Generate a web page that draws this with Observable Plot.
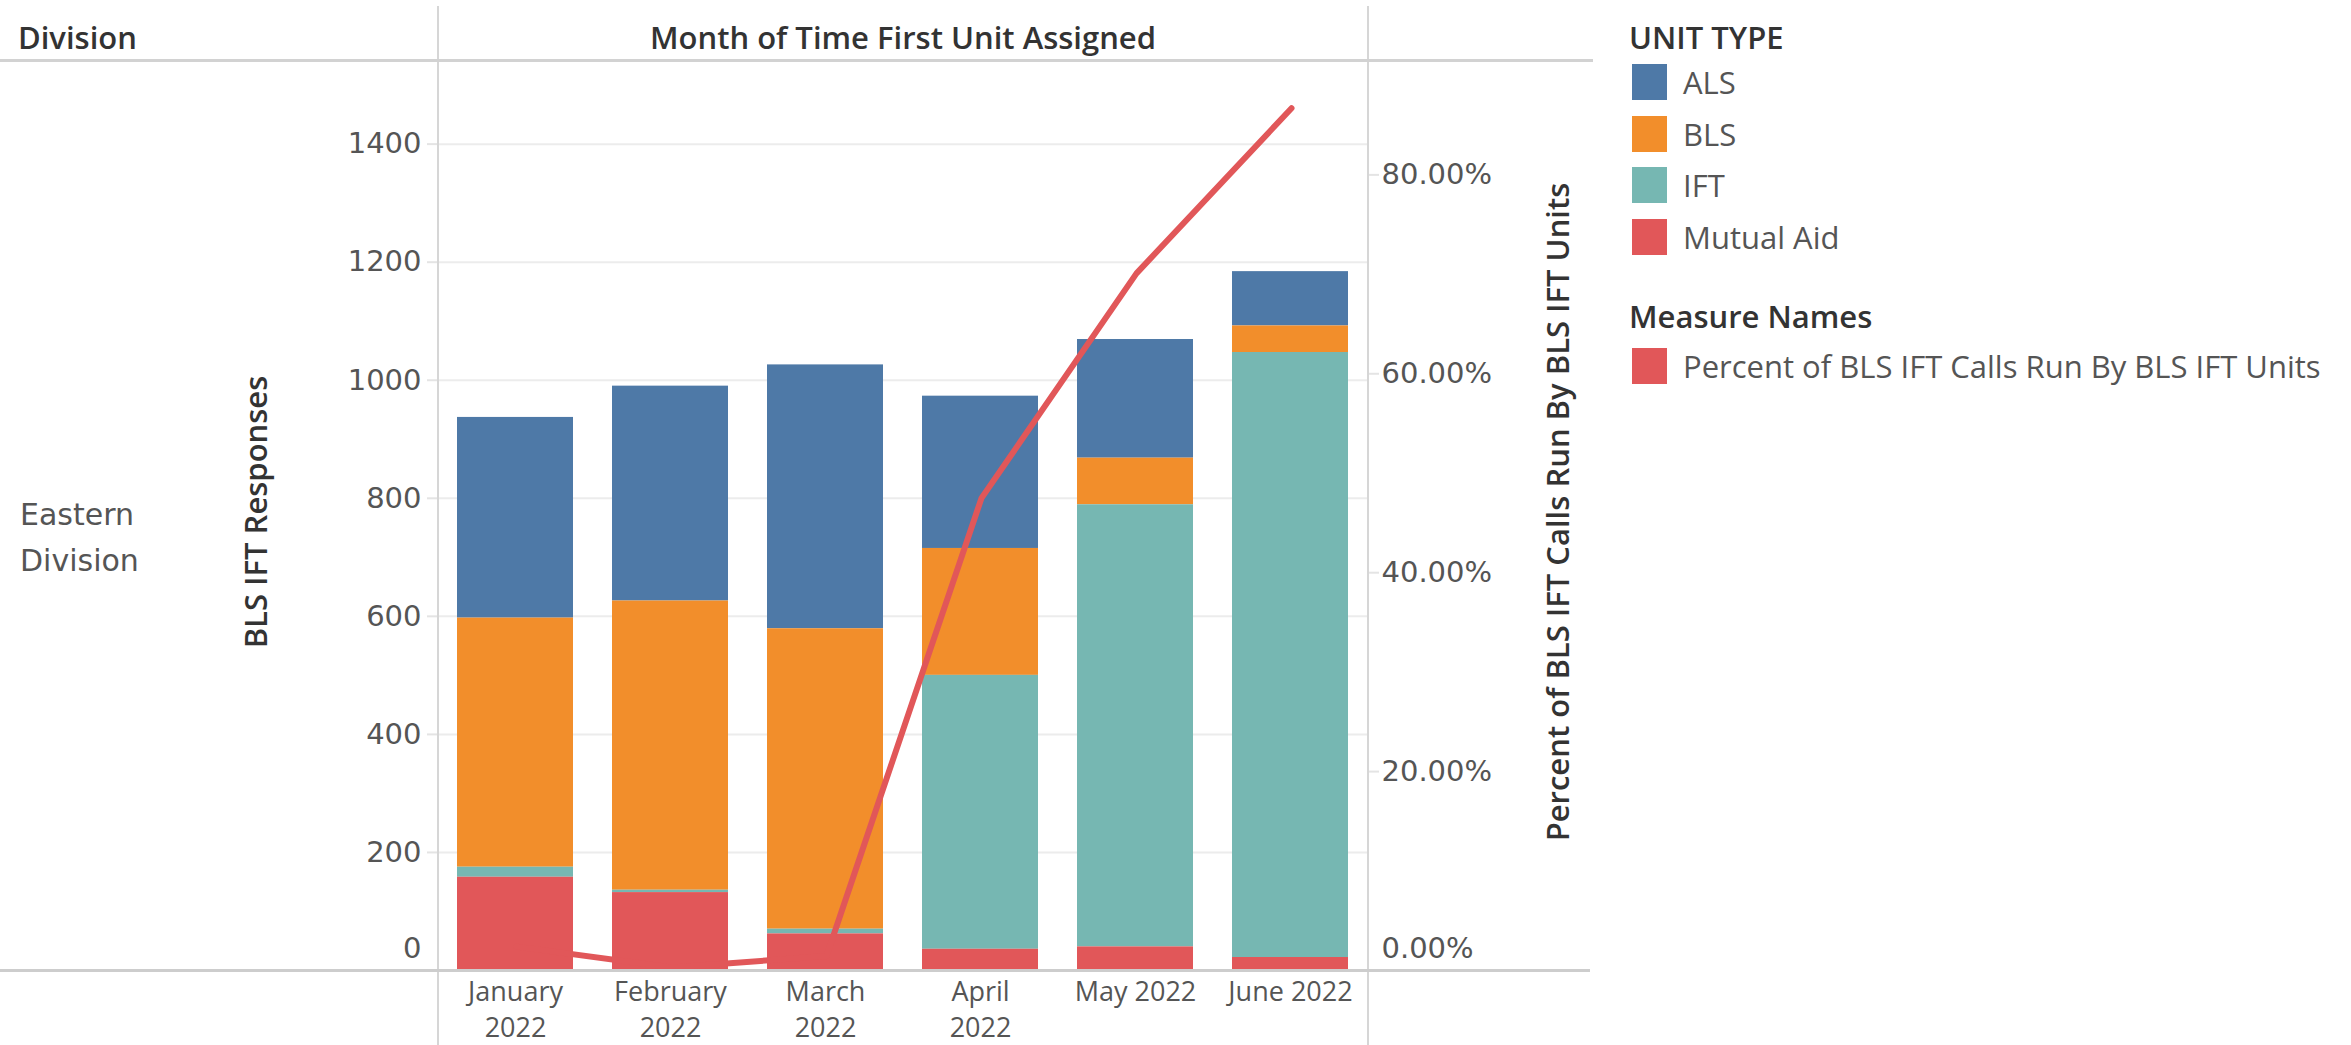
<!DOCTYPE html>
<html>
<head>
<meta charset="utf-8">
<script src="https://cdn.jsdelivr.net/npm/d3@7"></script>
<script src="https://cdn.jsdelivr.net/npm/@observablehq/plot@0.6"></script>
<style>
  body { margin: 0; background: #fff; }
  #root { position: relative; width: 2351px; height: 1045px; overflow: hidden; font-family: "Open Sans", "Noto Sans", sans-serif; }
  #root svg { position: absolute; left: 0; top: 0; background: transparent; }
  .abs { position: absolute; white-space: nowrap; }
  .hdr { font-size: 31px; font-weight: 600; color: #333; }
  .ttl { font-size: 31px; font-weight: 600; color: #333; }
  .leg { font-size: 31px; color: #555; }
  .line { position: absolute; background: #d6d6d6; }
</style>
</head>
<body>
<div id="root"></div>
<script>
// ---------- data ----------
const months = ["January 2022", "February 2022", "March 2022", "April 2022", "May 2022", "June 2022"];
const monthTickLabels = ["January\n2022", "February\n2022", "March\n2022", "April\n2022", "May 2022", "June 2022"];
const unitTypes = ["ALS", "BLS", "IFT", "Mutual Aid"];
const unitColors = ["#4e79a7", "#f28e2b", "#76b7b2", "#e15759"];
const stackOrder = ["Mutual Aid", "IFT", "BLS", "ALS"];
const als = [340, 364, 447, 258, 201, 92];
const bls = [422, 490, 509, 215, 79, 45];
const ift = [17, 4, 8, 464, 749, 1025];
const mutualAid = [158, 132, 62, 36, 40, 22];
const pctRunByBlsIft = [2.4, 0.3, 1.45, 47.5, 70.1, 86.7];
const leftTicks = [0, 200, 400, 600, 800, 1000, 1200, 1400];
const rightTicks = [0, 20, 40, 60, 80];
const measureName = "Percent of BLS IFT Calls Run By BLS IFT Units";
const lineColor = "#e15759";

// ---------- tables ----------
const seriesByType = {"ALS": als, "BLS": bls, "IFT": ift, "Mutual Aid": mutualAid};
const barRows = [];
months.forEach((m, i) => unitTypes.forEach(t => barRows.push({month: m, type: t, value: seriesByType[t][i]})));
const lineRows = months.map((m, i) => ({month: m, pct: pctRunByBlsIft[i]}));

// ---------- layout ----------
const W = 1600, H = 1045;
const margins = {marginLeft: 438, marginRight: W - 1368, marginTop: 61, marginBottom: H - 970};
const xScale = {domain: months, paddingInner: 0.25, paddingOuter: 0.125};
const numFont = "DejaVu Sans";
const txtFont = "Open Sans";
const numFmt = d => String(d);
const pctFmt = d => d.toFixed(2) + "%";

const root = document.getElementById("root");

const bars = Plot.plot({
  width: W, height: H, ...margins,
  style: {background: "transparent", overflow: "visible"},
  x: {...xScale},
  y: {domain: [0, 1540]},
  color: {domain: unitTypes, range: unitColors},
  marks: [
    Plot.gridY(leftTicks.filter(v => v > 0), {stroke: "#ececec", strokeOpacity: 1, strokeWidth: 2}),
    Plot.axisY(leftTicks.filter(v => v > 0), {tickSize: 11, tickPadding: 6, stroke: "#e4e4e4", strokeWidth: 2, fill: "#555", fontFamily: numFont, fontSize: 29, tickFormat: numFmt, label: null}),
    Plot.axisY([0], {tickSize: 0, tickPadding: 17, dy: -22, fill: "#555", fontFamily: numFont, fontSize: 29, tickFormat: numFmt, label: null}),
    Plot.barY(barRows, {x: "month", y: "value", fill: "type", order: stackOrder}),
    Plot.axisX({tickSize: 0, tickPadding: 4, tickFormat: d => monthTickLabels[months.indexOf(d)], fill: "#555", fontFamily: txtFont, fontSize: 27, lineHeight: 1.36, label: null})
  ]
});
root.appendChild(bars);

const line = Plot.plot({
  width: W, height: H, ...margins,
  style: {background: "transparent", overflow: "visible"},
  x: {...xScale, axis: null},
  y: {domain: [0, 91.4]},
  marks: [
    Plot.axisY(rightTicks.filter(v => v > 0), {anchor: "right", tickSize: 10, tickPadding: 3, stroke: "#e4e4e4", strokeWidth: 2, fill: "#555", fontFamily: numFont, fontSize: 29, tickFormat: pctFmt, label: null}),
    Plot.axisY([0], {anchor: "right", tickSize: 0, tickPadding: 13, dy: -22, fill: "#555", fontFamily: numFont, fontSize: 29, tickFormat: pctFmt, label: null}),
    Plot.line(lineRows, {x: "month", y: "pct", stroke: lineColor, strokeWidth: 6, strokeLinejoin: "round", strokeLinecap: "round"})
  ]
});
root.appendChild(line);

// ---------- table chrome (dividers) ----------
function rule(left, top, width, height, color) {
  const d = document.createElement("div");
  d.className = "line";
  Object.assign(d.style, {left: left + "px", top: top + "px", width: width + "px", height: height + "px"});
  if (color) d.style.background = color;
  root.appendChild(d);
}
rule(437, 6, 2, 1039);
rule(1367, 6, 2, 1039);
rule(0, 59, 1593, 3, "#d2d2d2");
rule(0, 969, 1590, 3, "#cdcdcd");

// ---------- text ----------
function text(str, x, y, cls, opts = {}) {
  const d = document.createElement("div");
  d.className = "abs " + cls;
  d.textContent = str;
  d.style.left = x + "px";
  d.style.top = y + "px";
  const tx = opts.center ? "-50%" : "0";
  d.style.transform = `translate(${tx}, -50%)` + (opts.rotate ? " rotate(-90deg)" : "");
  if (opts.style) Object.assign(d.style, opts.style);
  root.appendChild(d);
  return d;
}
text("Division", 18, 37, "hdr");
text("Month of Time First Unit Assigned", 903, 37, "hdr", {center: true});
text("Eastern", 20, 514, "leg", {style: {fontFamily: numFont, fontSize: "30px", color: "#555"}});
text("Division", 20, 560, "leg", {style: {fontFamily: numFont, fontSize: "30px", color: "#555"}});
text("BLS IFT Responses", 255, 512, "ttl", {center: true, rotate: true});
text(measureName, 1557, 512, "ttl", {center: true, rotate: true});

// ---------- legend ----------
text("UNIT TYPE", 1629, 37, "hdr");
const rowCenters = [82, 134, 185, 237];
unitTypes.forEach((t, i) => {
  const sw = document.createElement("div");
  sw.className = "abs";
  Object.assign(sw.style, {left: "1632px", top: (rowCenters[i] - 18) + "px", width: "35px", height: "36px", background: unitColors[i]});
  root.appendChild(sw);
  text(t, 1683, rowCenters[i], "leg");
});
text("Measure Names", 1629, 316, "hdr");
const sw2 = document.createElement("div");
sw2.className = "abs";
Object.assign(sw2.style, {left: "1632px", top: "348px", width: "35px", height: "36px", background: lineColor});
root.appendChild(sw2);
text(measureName, 1683, 366, "leg");
</script>
</body>
</html>
